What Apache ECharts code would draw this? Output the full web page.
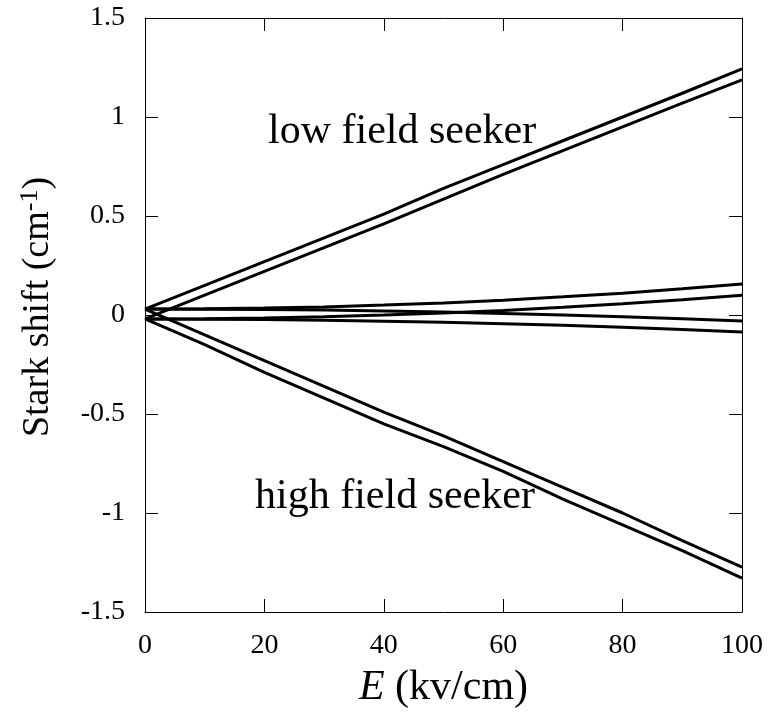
<!DOCTYPE html>
<html>
<head>
<meta charset="utf-8">
<script src="https://cdn.jsdelivr.net/npm/echarts@6/dist/echarts.min.js"></script>
<style>
  html, body { margin: 0; padding: 0; background: #fff; }
  #main { width: 769px; height: 714px; }
</style>
</head>
<body>
<div id="main"></div>
<script>
// field strength (kV/cm)
var fieldE = [0, 10, 20, 30, 40, 50, 60, 70, 80, 90, 100]

// low field seekers (upper pair)
var low1 = [0.03, 0.15, 0.27, 0.39, 0.51, 0.64, 0.76, 0.88, 1.00, 1.12, 1.243]
var low2 = [-0.02, 0.10, 0.22, 0.34, 0.46, 0.585, 0.71, 0.83, 0.95, 1.07, 1.188]
// high field seekers (lower pair)
var high1 = [0.03, -0.10, -0.23, -0.36, -0.49, -0.61, -0.74, -0.87, -1.00, -1.14, -1.273]
var high2 = [-0.02, -0.15, -0.29, -0.42, -0.55, -0.665, -0.79, -0.93, -1.06, -1.19, -1.329]
// nearly flat levels in the middle
var mid1 = [0.03, 0.031, 0.035, 0.041, 0.05, 0.061, 0.075, 0.092, 0.11, 0.132, 0.156]
var mid2 = [-0.02, -0.019, -0.015, -0.009, 0.0, 0.01, 0.023, 0.039, 0.057, 0.077, 0.10]
var mid3 = [0.03, 0.029, 0.028, 0.025, 0.02, 0.015, 0.008, 0.0, -0.009, -0.019, -0.03]
var mid4 = [-0.02, -0.021, -0.023, -0.026, -0.031, -0.037, -0.044, -0.052, -0.062, -0.073, -0.086]

var allLines = [low1, low2, high1, high2, mid1, mid2, mid3, mid4]

function pairs(ys) {
    var out = []
    for (var i = 0; i < fieldE.length; i++) {
        out.push([fieldE[i], ys[i]])
    }
    return out
}

var font = 'Liberation Serif'
var series = []
for (var i = 0; i < allLines.length; i++) {
    series.push({
        type: 'line',
        data: pairs(allLines[i]),
        showSymbol: false,
        silent: true,
        lineStyle: {color: '#000', width: 3}
    })
}

var tickStyle = {show: true, inside: true, length: 13, lineStyle: {color: '#000', width: 1}}
var lineStyle = {show: true, onZero: false, lineStyle: {color: '#000', width: 1}}

var myChart = echarts.init(document.getElementById('main'))
myChart.setOption({
    animation: false,
    grid: {left: 145, right: 27, top: 18, bottom: 100},
    xAxis: [
        {
            type: 'value', min: 0, max: 100, interval: 20,
            axisLine: lineStyle, axisTick: tickStyle, splitLine: {show: false},
            axisLabel: {color: '#000', fontFamily: font, fontSize: 28, margin: 20},
            name: '{i|E} (kv/cm)',
            nameLocation: 'middle',
            nameGap: 55,
            nameTextStyle: {
                color: '#000', fontFamily: font, fontSize: 42,
                rich: {i: {fontFamily: font, fontSize: 42, fontStyle: 'italic', color: '#000'}}
            }
        },
        {
            type: 'value', min: 0, max: 100, interval: 20, position: 'top',
            axisLine: lineStyle, axisTick: tickStyle, axisLabel: {show: false}, splitLine: {show: false}
        }
    ],
    yAxis: [
        {
            type: 'value', min: -1.5, max: 1.5, interval: 0.5,
            axisLine: lineStyle, axisTick: tickStyle, splitLine: {show: false},
            axisLabel: {color: '#000', fontFamily: font, fontSize: 28, margin: 20},
            name: 'Stark shift (cm{s|-1})',
            nameLocation: 'middle',
            nameGap: 86,
            nameRotate: 90,
            nameTextStyle: {
                color: '#000', fontFamily: font, fontSize: 38,
                padding: [0, 0, 0, 16],
                rich: {s: {fontFamily: font, fontSize: 26, color: '#000', verticalAlign: 'top', padding: [0, 0, 16, 0]}}
            }
        },
        {
            type: 'value', min: -1.5, max: 1.5, interval: 0.5, position: 'right',
            axisLine: lineStyle, axisTick: tickStyle, axisLabel: {show: false}, splitLine: {show: false}
        }
    ],
    graphic: [
        {
            type: 'text', x: 268, y: 132,
            style: {text: 'low field seeker', font: '42px "Liberation Serif"', fill: '#000', verticalAlign: 'middle'}
        },
        {
            type: 'text', x: 255, y: 497,
            style: {text: 'high field seeker', font: '42px "Liberation Serif"', fill: '#000', verticalAlign: 'middle'}
        }
    ],
    series: series
})
</script>
</body>
</html>
